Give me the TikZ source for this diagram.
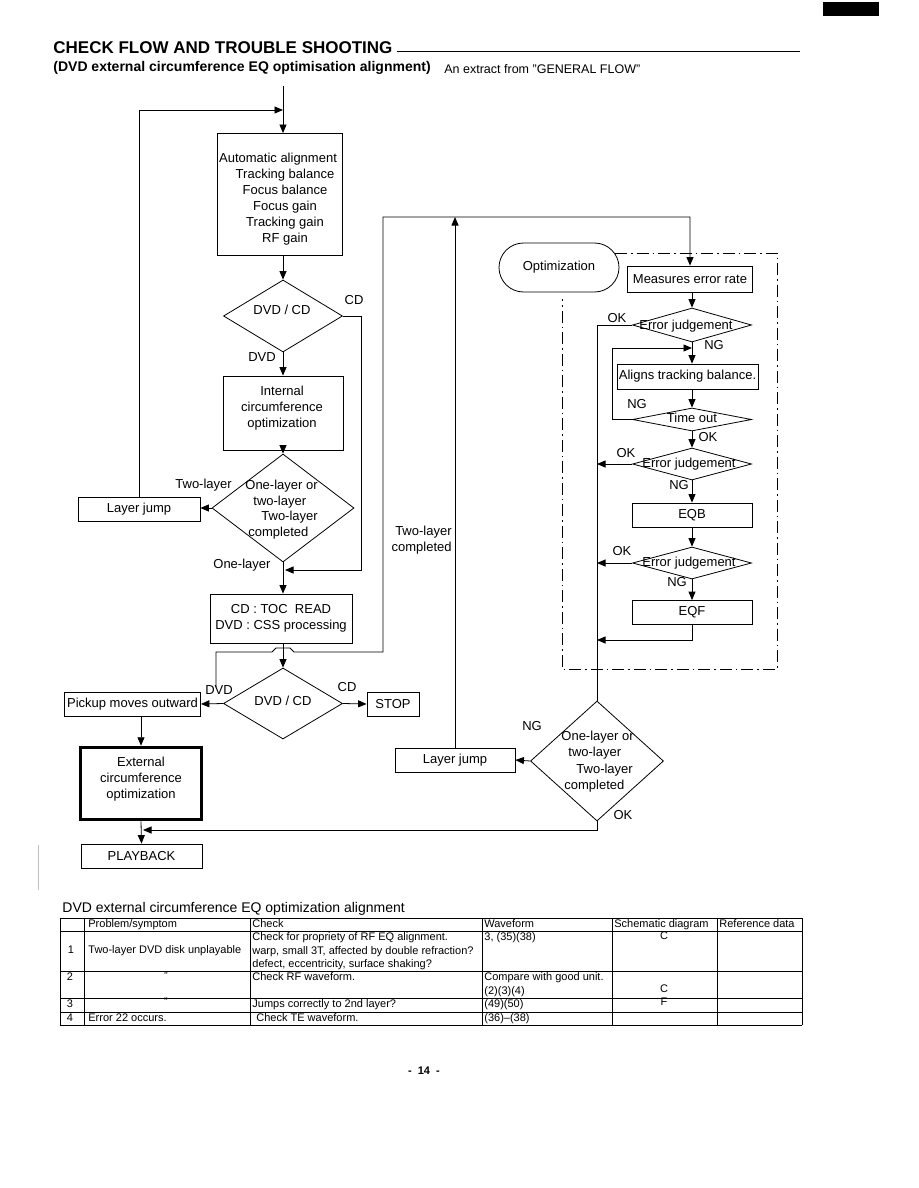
\documentclass[tikz,border=0pt]{standalone}
\usepackage{fontspec}
\setmainfont{Liberation Sans}
\usetikzlibrary{arrows.meta,shapes.geometric}
\newcommand\dgf{\fontsize{13}{16}\selectfont}
\newcommand\tbf{\fontsize{11}{13.3}\selectfont}
\begin{document}
\begin{tikzpicture}[x=1pt,y=-1pt,line width=0.8pt,
  box/.style={draw,inner sep=0pt,font=\dgf},
  dia/.style={draw,diamond,inner sep=0pt},
  lbl/.style={inner sep=0pt,font=\dgf,anchor=mid},
  tl/.style={inner sep=0pt,font=\tbf,anchor=mid west},
  tc/.style={inner sep=0pt,font=\tbf,anchor=mid},
  arr/.style={-{Triangle[length=8.5pt,width=7pt]}},
  dd/.style={line width=0.7pt,dash pattern=on 12pt off 4pt on 1.5pt off 4pt}]
\useasboundingbox (0,0) rectangle (918,1188);

% header
\fill (823,2) rectangle (879,16);
\node[anchor=base west,inner sep=0pt,font=\fontsize{17}{20}\selectfont\bfseries] (title) at (53,54) {CHECK FLOW AND TROUBLE SHOOTING};
\draw[line width=1pt] (397,52) -- (800,52);
\node[anchor=base west,inner sep=0pt,font=\fontsize{14}{16}\selectfont\bfseries] (sub) at (53,72) {(DVD external circumference EQ optimisation alignment)};
\node[anchor=base west,inner sep=0pt,font=\fontsize{12.5}{15}\selectfont] (extract) at (444,74) {An extract from "GENERAL FLOW"};
\draw[gray!50,line width=0.5pt] (38,845) -- (38,890);

% ---------- left column ----------
\coordinate (in0) at (283,86);
\node[box,minimum width=125,minimum height=122] (auto) at (279.5,194.5) {};
\node[inner sep=0pt,font=\dgf,align=center] (autot) at (285,199) {Automatic alignment\hspace*{14pt}\\Tracking balance\\Focus balance\\Focus gain\\Tracking gain\\RF gain};
\draw[arr] (in0) -- (in0 |- auto.north);

\node[dia,minimum width=119,minimum height=72] (d1) at (283,316) {};
\node[lbl] (d1t) at (282,312) {DVD / CD};
\draw[arr] (d1.north |- auto.south) -- (d1.north);
\node[lbl] (cd1) at (354,302) {CD};
\node[lbl] (dvd1) at (262,359) {DVD};

\node[box,minimum width=120,minimum height=74] (int) at (283,413) {};
\node[inner sep=0pt,font=\dgf,align=center] (intt) at (282,408) {Internal\\circumference\\optimization};
\draw[arr] (d1.south) -- (int.north);

\node[dia,minimum width=142,minimum height=108] (d2) at (283,508) {};
\draw[arr] (int.south) -- (d2.north);
\node[lbl,anchor=mid west] (d2a) at (245,487) {One-layer or};
\node[lbl,anchor=mid west] (d2b) at (253,503) {two-layer};
\node[lbl,anchor=mid west] (d2c) at (261,518) {Two-layer};
\node[lbl,anchor=mid west] (d2d) at (248,534) {completed};
\node[lbl,anchor=mid west] (twol1) at (175,486) {Two-layer};
\node[lbl,anchor=mid west] (onel) at (213,566) {One-layer};

\node[box,minimum width=122,minimum height=24] (lj1) at (139,509) {Layer jump};
\draw[arr] (d2.west) -- (lj1.east |- d2.west);
\coordinate (lpend) at (283,110);
\draw[arr] (lj1.north) |- (lpend);

\coordinate (cdr) at (361,316);
\coordinate (cdj) at (285,570);
\draw[arr] (d1.east) -- (cdr) |- (cdj);

\node[box,minimum width=142,minimum height=49,align=center] (toc) at (281,618.5) {CD : TOC\ \ READ\\DVD : CSS processing};
\draw[arr] (d2.south) -- (d2.south |- toc.north);

\node[dia,minimum width=119,minimum height=71] (d3) at (283,703.5) {};
\node[lbl] (d3t) at (283,703) {DVD / CD};
\draw[arr] (d3.north |- toc.south) -- (d3.north);
\node[lbl] (dvd3) at (219,692) {DVD};
\node[lbl] (cd3) at (347,689) {CD};

\node[box,minimum width=52,minimum height=24] (stop) at (393,704) {STOP};
\draw[arr] (d3.east) -- (stop.west);
\node[box,minimum width=136,minimum height=24] (pick) at (132.5,704) {Pickup moves outward};
\draw[arr] (d3.west) -- (pick.east);

\node[draw,line width=3.5pt,inner sep=0pt,minimum width=121,minimum height=72] (ext) at (141,783.5) {};
\node[inner sep=0pt,font=\dgf,align=center] (extt) at (141,779.5) {External\\circumference\\optimization};
\draw[arr] (pick.south -| ext.north) -- (ext.north);
\node[box,minimum width=121,minimum height=24] (play) at (141.5,856) {PLAYBACK};
\draw[arr] (ext.south) -- (play.north);

% ---------- right side ----------
\coordinate (hA) at (216,687);
\coordinate (rt) at (383,217);
\node[box,minimum width=125,minimum height=26] (meas) at (690,279) {Measures error rate};
\draw[arr] (hA) -- (216,652) -- (272,652) -- (276,648) -- (290,648) -- (294,652) -| (rt) -| (meas.north);

\node[draw,rounded corners=24.5pt,inner sep=0pt,minimum width=120,minimum height=49,font=\dgf] (opt) at (559,267.5) {Optimization};
\draw[dd] (615,253) -- (777,253) -- (777,669) -- (562,669) -- (562,299);

\node[dia,minimum width=119,minimum height=34] (ej1) at (692,325) {};
\node[lbl] (ej1t) at (686,327) {Error judgement};
\draw[arr] (ej1.north |- meas.south) -- (ej1.north);

\node[box,minimum width=141,minimum height=25] (aligns) at (687.5,376.5) {Aligns tracking balance.};
\draw[arr] (ej1.south) -- (ej1.south |- aligns.north);

\node[dia,minimum width=119,minimum height=23] (tout) at (692,419.5) {};
\node[lbl] (toutt) at (692,420) {Time out};
\draw[arr] (ej1.south |- aligns.south) -- (tout.north);
\coordinate (lpx) at (612,348);
\draw[arr] (tout.west) -| (lpx) -- (lpx -| ej1.south);

\node[dia,minimum width=119,minimum height=32] (ej2) at (692,464) {};
\node[lbl] (ej2t) at (689,465) {Error judgement};
\draw[arr] (tout.south) -- (ej2.north);

\node[box,minimum width=120,minimum height=24] (eqb) at (692,515) {EQB};
\draw[arr] (ej2.south) -- (eqb.north);

\node[dia,minimum width=119,minimum height=32] (ej3) at (692,563) {};
\node[lbl] (ej3t) at (689,564) {Error judgement};
\draw[arr] (eqb.south) -- (ej3.north);

\node[box,minimum width=120,minimum height=24] (eqf) at (692,612.5) {EQF};
\draw[arr] (ej3.south) -- (eqf.north);

\node[dia,minimum width=133,minimum height=120] (d4) at (597,761) {};
\node[lbl,anchor=mid west] (d4a) at (561,738) {One-layer or};
\node[lbl,anchor=mid west] (d4b) at (568,754) {two-layer};
\node[lbl,anchor=mid west] (d4c) at (576,771) {Two-layer};
\node[lbl,anchor=mid west] (d4d) at (564,787) {completed};

\draw (ej1.west) -| (d4.north);
\draw[arr] (ej2.west) -- (ej2.west -| d4.north);
\draw[arr] (ej3.west) -- (ej3.west -| d4.north);
\coordinate (eqfc) at (692,640);
\draw[arr] (eqf.south) -- (eqfc) -- (eqfc -| d4.north);

\node[box,minimum width=120,minimum height=24] (lj2) at (455,760) {Layer jump};
\draw[arr] (d4.west) -- (lj2.east);
\draw[arr] (lj2.north) -- (lj2.north |- rt);
\node[lbl,align=right,anchor=east,font=\dgf] (twoc) at (452,540) {Two-layer\\completed};

\coordinate (ret) at (143,830);
\draw[arr] (d4.south) -- (d4.south |- ret) -- (ret);

% labels right
\node[lbl] (ok1) at (617,320) {OK};
\node[lbl] (ng1) at (714,347) {NG};
\node[lbl] (ng2) at (637,406) {NG};
\node[lbl] (ok2) at (708,439) {OK};
\node[lbl] (ok3) at (626,455) {OK};
\node[lbl] (ng3) at (679,487) {NG};
\node[lbl] (ok4) at (622,553) {OK};
\node[lbl] (ng4) at (677,584) {NG};
\node[lbl] (ng5) at (532,728) {NG};
\node[lbl] (ok5) at (623,817) {OK};

% ---------- table ----------
\node[anchor=mid west,inner sep=0pt,font=\fontsize{14}{16}\selectfont] (ttitle) at (62,910) {DVD external circumference EQ optimization alignment};
\foreach \yy in {918,931,971,998,1012,1025} \draw[line width=0.8pt] (60,\yy) -- (802,\yy);
\foreach \xx in {60,84,250,482,612,717,802} \draw[line width=0.8pt] (\xx,918) -- (\xx,1025);
\node[tl] (h1) at (88,924.5) {Problem/symptom};
\node[tl] (h2) at (252,924.5) {Check};
\node[tl] (h3) at (484,924.5) {Waveform};
\node[tl] (h4) at (614,924.5) {Schematic diagram};
\node[tl] (h5) at (719,924.5) {Reference data};
\node[tc] (r1n) at (71,951) {1};
\node[tl] (r1p) at (88,951) {Two-layer DVD disk unplayable};
\node[tl] (r1c1) at (252,938) {Check for propriety of RF EQ alignment.};
\node[tl] (r1c2) at (252,951.5) {warp, small 3T, affected by double refraction?};
\node[tl] (r1c3) at (252,965) {defect, eccentricity, surface shaking?};
\node[tl] (r1w) at (484,938) {3, (35)(38)};
\node[tc] (r1s) at (664,937) {C};
\node[tc] (r2n) at (70,978) {2};
\node[tc] (r2p) at (166,977) {"};
\node[tl] (r2c) at (252,978) {Check RF waveform.};
\node[tl] (r2w1) at (484,978) {Compare with good unit.};
\node[tl] (r2w2) at (484,991.5) {(2)(3)(4)};
\node[tc] (r2s) at (664,990) {C};
\node[tc] (r3n) at (70,1005) {3};
\node[tc] (r3p) at (166,1003) {"};
\node[tl] (r3c) at (252,1005) {Jumps correctly to 2nd layer?};
\node[tl] (r3w) at (484,1005) {(49)(50)};
\node[tc] (r3s) at (664,1003) {F};
\node[tc] (r4n) at (70,1018.5) {4};
\node[tl] (r4p) at (88,1018.5) {Error 22 occurs.};
\node[tl] (r4c) at (256,1018.5) {Check TE waveform.};
\node[tl] (r4w) at (484,1018.5) {(36)–(38)};

\node[inner sep=0pt,font=\fontsize{11}{13}\selectfont\bfseries] (pg) at (424,1071) {-\ \ 14\ \ -};
\end{tikzpicture}
\end{document}
